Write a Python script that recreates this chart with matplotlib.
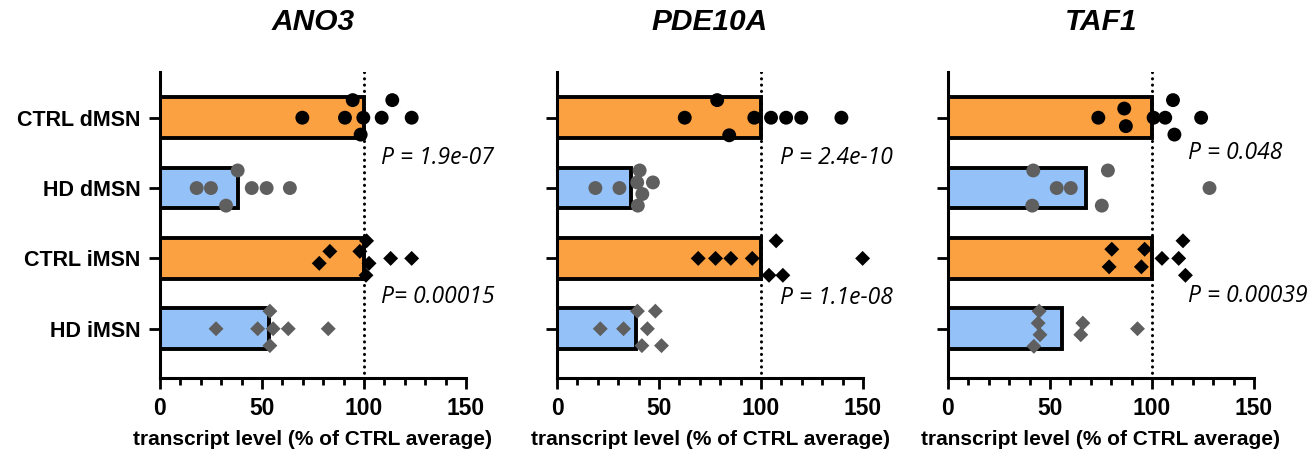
import matplotlib
matplotlib.use("Agg")
import matplotlib.pyplot as plt
from matplotlib.ticker import MultipleLocator

plt.rcParams['font.family'] = ['Liberation Sans', 'DejaVu Sans']

# ── Data (transcript level, % of CTRL average) ──────────────────────────────
groups = ["CTRL dMSN", "HD dMSN", "CTRL iMSN", "HD iMSN"]
genes = ["ANO3", "PDE10A", "TAF1"]

ano3_ctrl_d = [69.8, 90.7, 94.5, 99.7, 98.4, 108.7, 113.9, 123.4]
ano3_hd_d = [18.0, 25.0, 38.1, 32.4, 45.0, 52.3, 63.7]
ano3_ctrl_i = [78.1, 83.3, 98.0, 101.3, 102.5, 101.0, 113.1, 123.4]
ano3_hd_i = [27.5, 47.9, 53.9, 55.5, 62.9, 53.9, 82.5]
ano3_bars = [100, 38.4, 100, 53.6]

pde_ctrl_d = [62.6, 78.5, 84.4, 96.7, 104.9, 112.3, 119.7, 139.4]
pde_hd_d = [18.8, 30.6, 40.5, 39.3, 47.0, 41.8, 39.6]
pde_ctrl_i = [69.2, 77.7, 85.2, 95.7, 107.4, 103.9, 110.7, 149.8]
pde_hd_i = [21.2, 32.6, 39.4, 48.2, 44.3, 41.6, 51.2]
pde_bars = [100, 36.1, 100, 38.9]

taf_ctrl_d = [73.7, 86.4, 87.2, 100.8, 106.5, 110.3, 111.0, 124.1]
taf_hd_d = [41.8, 41.3, 53.3, 60.2, 78.4, 75.4, 128.2]
taf_ctrl_i = [80.3, 79.0, 96.4, 94.8, 104.9, 113.1, 115.2, 116.4]
taf_hd_i = [44.7, 44.2, 45.1, 42.1, 66.1, 65.1, 92.9]
taf_bars = [100, 67.5, 100, 55.7]

pvals = [["P = 1.9e-07", "P= 0.00015"],
         ["P = 2.4e-10", "P = 1.1e-08"],
         ["P = 0.048", "P = 0.00039"]]

# ── Layout: vertical scatter offsets for each dot (swarm placement) ─────────
jit = {
    "ANO3": [[0, 0, -0.25, 0, 0.24, 0, -0.25, 0],
             [0, 0, -0.25, 0.25, 0, 0, 0],
             [0.07, -0.1, -0.1, -0.25, 0.07, 0.24, 0, 0],
             [0, 0, -0.25, 0, 0, 0.24, 0]],
    "PDE10A": [[0, -0.25, 0.25, 0, 0, 0, 0, 0],
               [0, 0, -0.25, -0.08, -0.08, 0.085, 0.25],
               [0, 0, 0, 0, -0.25, 0.24, 0.24, 0],
               [0, 0, -0.25, -0.25, 0, 0.24, 0.24]],
    "TAF1": [[0, -0.13, 0.12, 0, 0, -0.25, 0.24, 0],
             [-0.25, 0.25, 0, 0, -0.25, 0.25, 0],
             [-0.13, 0.12, -0.13, 0.12, 0, 0, -0.25, 0.24],
             [-0.25, -0.08, 0.085, 0.25, -0.08, 0.085, 0]],
}
pval_pos = [[(108.5, 0.57), (108.5, 2.55)],
            [(109.5, 0.57), (109.5, 2.56)],
            [(117.5, 0.50), (117.5, 2.53)]]

points = {
    "ANO3": [ano3_ctrl_d, ano3_hd_d, ano3_ctrl_i, ano3_hd_i],
    "PDE10A": [pde_ctrl_d, pde_hd_d, pde_ctrl_i, pde_hd_i],
    "TAF1": [taf_ctrl_d, taf_hd_d, taf_ctrl_i, taf_hd_i],
}
bars = {"ANO3": ano3_bars, "PDE10A": pde_bars, "TAF1": taf_bars}

ORANGE = '#FBA142'
BLUE = '#94C2F8'
bar_colors = [ORANGE, BLUE, ORANGE, BLUE]
dot_colors = ['black', '#5f5f5f', 'black', '#5f5f5f']
markers = ['o', 'o', 'D', 'D']
msizes = [100, 100, 58, 58]

fig = plt.figure(figsize=(13.11, 4.53), dpi=100)
lefts = [0.1220, 0.4249, 0.7231]

for k, gene in enumerate(genes):
    ax = fig.add_axes([lefts[k], 0.1656, 0.2334, 0.6755])
    ypos = list(range(len(groups)))
    ax.barh(ypos, bars[gene], height=0.58, color=bar_colors,
            edgecolor='black', linewidth=2.8, zorder=2)
    for i in range(len(groups)):
        ys = [ypos[i] + j for j in jit[gene][i]]
        ax.scatter(points[gene][i], ys, s=msizes[i], marker=markers[i],
                   color=dot_colors[i], edgecolors='none', zorder=4,
                   clip_on=False)
    ax.plot([100, 100], [-0.65, 3.7], color='black', linewidth=2.2,
            linestyle=(0, (0.05, 2.0)), dash_capstyle='round', zorder=3)

    ax.set_xlim(0, 150)
    ax.set_ylim(3.7, -0.65)
    ax.set_yticks(ypos)
    if k == 0:
        ax.set_yticklabels(groups, fontsize=15.5, fontweight='bold')
    else:
        ax.set_yticklabels([])
    ax.set_xticks([0, 50, 100, 150])
    ax.xaxis.set_minor_locator(MultipleLocator(10))
    for lab in ax.get_xticklabels():
        lab.set_fontweight('bold')
        lab.set_fontsize(16.5)
    ax.tick_params(axis='both', which='major', length=8, width=2.0, pad=6)
    ax.tick_params(axis='x', which='minor', length=5, width=2.0)
    ax.spines['top'].set_visible(False)
    ax.spines['right'].set_visible(False)
    ax.spines['left'].set_linewidth(2.2)
    ax.spines['bottom'].set_linewidth(2.2)
    ax.set_xlabel('transcript level (% of CTRL average)', fontsize=15,
                  fontweight='bold', labelpad=7)
    ax.set_title(gene, fontsize=21.5, fontweight='bold', style='italic', pad=30)

    for (px, py), txt in zip(pval_pos[k], pvals[k]):
        ax.text(px, py, txt, fontsize=16.5, style='italic', family='Open Sans',
                va='center', ha='left', zorder=5)

fig.savefig('out.png', dpi=100)
